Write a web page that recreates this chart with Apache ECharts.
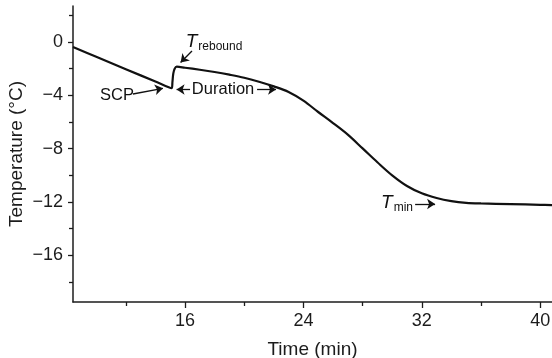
<!DOCTYPE html>
<html>
<head>
<meta charset="utf-8">
<script src="https://cdn.jsdelivr.net/npm/echarts@6/dist/echarts.min.js"></script>
<style>
  html, body { margin: 0; padding: 0; background: #fff; }
  #chart { width: 552px; height: 358px; }
</style>
</head>
<body>
<div id="chart"></div>
<script>
// Cooling curve: time (min) against temperature (°C)
const timeMin = [8.43, 10, 12, 14, 14.9, 15.1, 15.15, 15.21, 15.3, 15.44, 16, 17, 18, 19, 20, 21, 22, 23, 24, 25, 26, 27, 28, 29, 30, 31, 32, 33, 34, 35, 36, 38, 40, 40.8];
const tempC   = [-0.38, -1.11, -2.04, -2.97, -3.40, -3.47, -3.0, -2.35, -2.0, -1.85, -1.93, -2.08, -2.25, -2.45, -2.68, -2.98, -3.33, -3.75, -4.4, -5.25, -6.08, -6.95, -7.98, -9.02, -10.0, -10.8, -11.35, -11.7, -11.93, -12.06, -12.11, -12.16, -12.21, -12.23];

// Axis tick values
const xMajorTicks = [16, 24, 32, 40];
const xMinorTicks = [12, 20, 28, 36];
const yMajorTicks = [0, -4, -8, -12, -16];
const yMinorTicks = [2, -2, -6, -10, -14, -18];

const INK = '#1c1c1c';
const FONT = 'Liberation Sans';

const curve = timeMin.map((t, i) => [t, tempC[i]]);

// Annotation arrows, in data coordinates: [fromTime, fromTemp, toTime, toTemp]
const arrows = [
  [16.47, -0.675, 15.70, -1.54],   // T rebound
  [12.48, -3.90, 14.51, -3.47],    // SCP
  [16.34, -3.56, 15.43, -3.56],    // Duration (left)
  [20.87, -3.56, 22.15, -3.56],    // Duration (right)
  [31.55, -12.15, 32.9, -12.15]    // T min
];

// Annotation texts, anchored at their centre
const notes = [
  { value: [17.96, 0.0],    text: '{t|T}{s|rebound}' },
  { value: [11.40, -4.02],  text: '{n|SCP}' },
  { value: [18.57, -3.56],  text: '{n|Duration}' },
  { value: [30.33, -12.08], text: '{t|T}{s|min}' }
];

const chart = echarts.init(document.getElementById('chart'), null, { renderer: 'canvas' });

const axisLine = { show: true, onZero: false, lineStyle: { color: INK, width: 1.5 } };
const hiddenLine = { show: false, onZero: false };

chart.setOption({
  animation: false,
  backgroundColor: '#fff',
  grid: { left: 73, right: 0, top: 6, bottom: 56, containLabel: false, outerBoundsMode: 'none' },
  xAxis: [
    {
      type: 'value', min: 8.43, max: 40.8, position: 'bottom',
      name: 'Time (min)', nameLocation: 'middle', nameGap: 38, nameMoveOverlap: false,
      nameTextStyle: { fontFamily: FONT, fontSize: 19, color: INK },
      axisLine: axisLine,
      axisTick: { show: true, customValues: xMajorTicks, length: 6, lineStyle: { color: INK, width: 1.3 } },
      axisLabel: { customValues: xMajorTicks, fontFamily: FONT, fontSize: 18, color: INK, margin: 10 },
      splitLine: { show: false }
    },
    {
      type: 'value', min: 8.43, max: 40.8, position: 'bottom',
      axisLine: hiddenLine,
      axisTick: { show: true, customValues: xMinorTicks, length: 4, lineStyle: { color: INK, width: 1.3 } },
      axisLabel: { show: false },
      splitLine: { show: false }
    }
  ],
  yAxis: [
    {
      type: 'value', min: -19.5, max: 2.7, position: 'left',
      name: 'Temperature (°C)', nameLocation: 'middle', nameGap: 47, nameRotate: 90, nameMoveOverlap: false,
      nameTextStyle: { fontFamily: FONT, fontSize: 19, color: INK },
      axisLine: axisLine,
      axisTick: { show: true, customValues: yMajorTicks, length: 5, lineStyle: { color: INK, width: 1.3 } },
      axisLabel: {
        customValues: yMajorTicks, fontFamily: FONT, fontSize: 18, color: INK, margin: 10,
        formatter: v => (v < 0 ? '\u2212' + Math.abs(v) : String(v))
      },
      splitLine: { show: false }
    },
    {
      type: 'value', min: -19.5, max: 2.7, position: 'left',
      axisLine: hiddenLine,
      axisTick: { show: true, customValues: yMinorTicks, length: 4, lineStyle: { color: INK, width: 1.3 } },
      axisLabel: { show: false },
      splitLine: { show: false }
    }
  ],
  series: [
    {
      type: 'line',
      data: curve,
      smooth: 0.35,
      showSymbol: false,
      lineStyle: { color: '#111', width: 2.2 },
      silent: true,
      markLine: {
        silent: true,
        animation: false,
        symbol: ['none', 'arrow'],
        symbolSize: [8, 8],
        label: { show: false },
        lineStyle: { color: '#111', width: 1.3, type: 'solid', opacity: 1 },
        emphasis: { disabled: true },
        data: arrows.map(a => [
          { coord: [a[0], a[1]] },
          { coord: [a[2], a[3]] }
        ])
      }
    },
    {
      type: 'scatter',
      data: notes.map(n => ({ value: n.value, text: n.text })),
      symbolSize: 0,
      silent: true,
      itemStyle: { color: '#111', opacity: 1 },
      label: {
        show: true,
        position: 'inside',
        color: '#111',
        opacity: 1,
        textBorderWidth: 0,
        formatter: p => p.data.text,
        rich: {
          n: { fontFamily: FONT, fontSize: 16.5, color: '#111', lineHeight: 22, textBorderWidth: 0 },
          t: { fontFamily: FONT, fontSize: 19, fontStyle: 'italic', color: '#111', lineHeight: 22, textBorderWidth: 0 },
          s: { fontFamily: FONT, fontSize: 12, color: '#111', lineHeight: 22, padding: [9, 0, 0, 1], textBorderWidth: 0 }
        }
      }
    }
  ]
});
</script>
</body>
</html>
